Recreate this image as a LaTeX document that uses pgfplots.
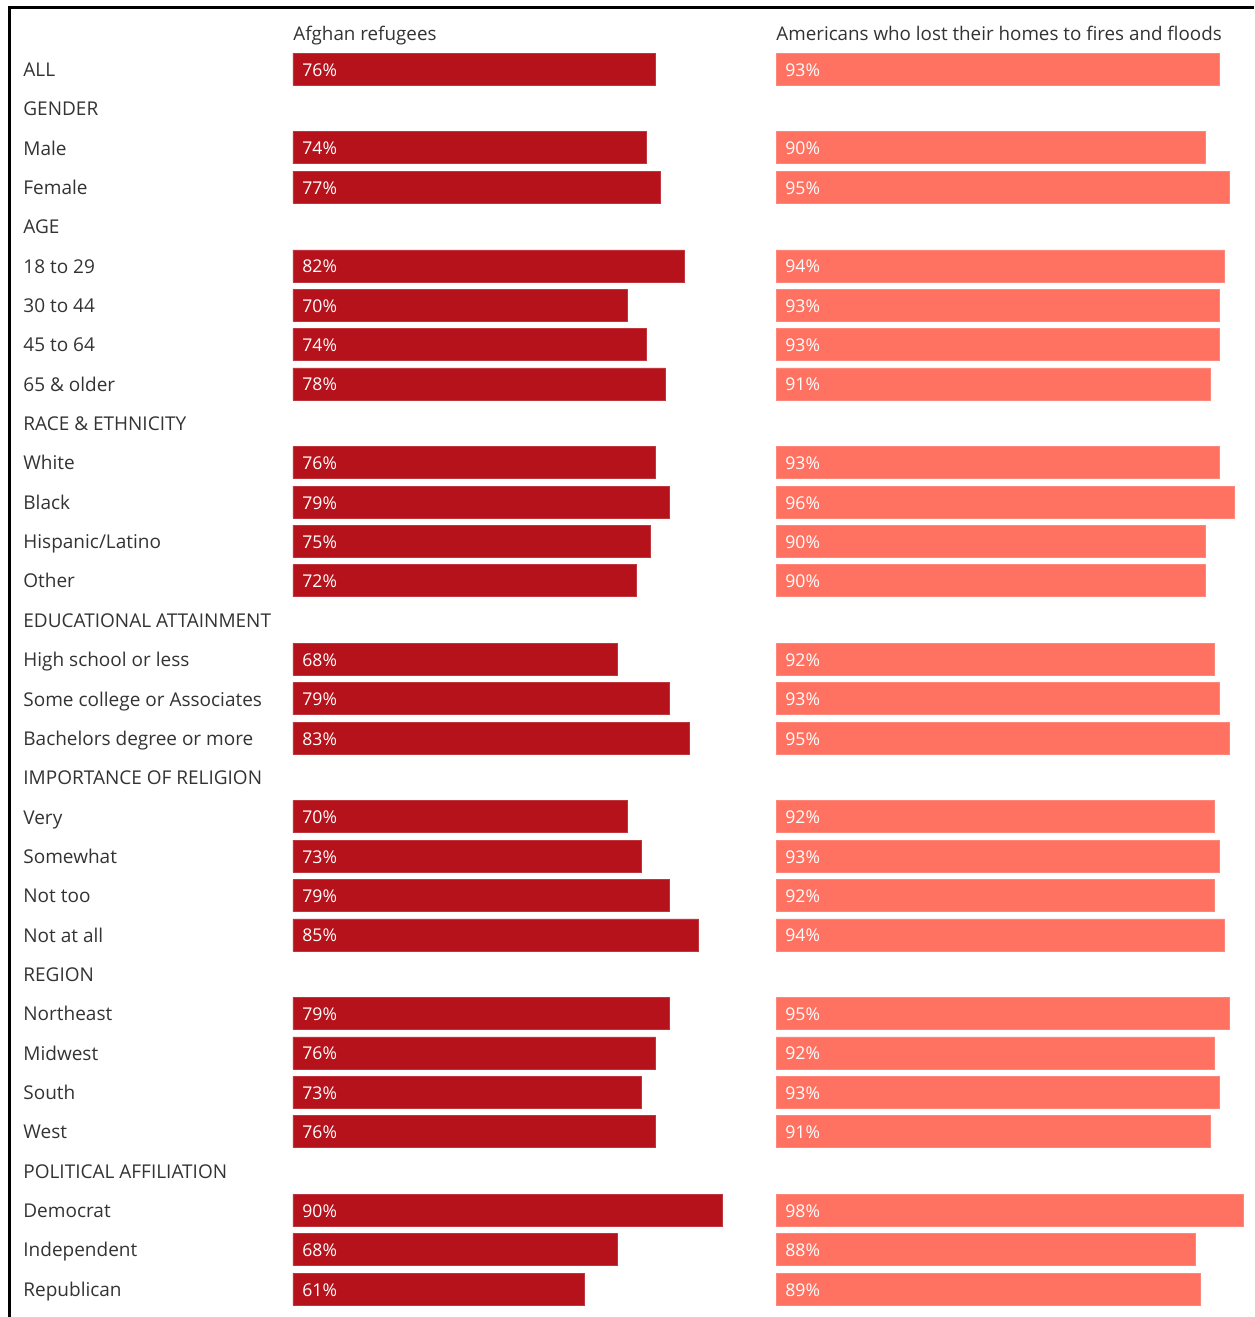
\documentclass[border=0pt]{standalone}
\usepackage{pgfplots}
\pgfplotsset{compat=1.18}
\usepackage{pgfplotstable}
\usepackage{fontspec}
\setmainfont{Open Sans}
\definecolor{darkred}{HTML}{B5121B}
\definecolor{salmon}{HTML}{FF7261}
\definecolor{txt}{HTML}{333333}
\pgfplotstableread{
y a b
0 76 93
2 74 90
3 77 95
5 82 94
6 70 93
7 74 93
8 78 91
10 76 93
11 79 96
12 75 90
13 72 90
15 68 92
16 79 93
17 83 95
19 70 92
20 73 93
21 79 92
22 85 94
24 79 95
25 76 92
26 73 93
27 76 91
29 90 98
30 68 88
31 61 89
}\data
\begin{document}
\begin{tikzpicture}
\useasboundingbox (0,0) rectangle (627pt,-658.5pt);
\pgfplotsset{
  base/.style={
    scale only axis, width=238.5pt, height=629.6pt,
    xmin=0, xmax=100, ymin=-0.5, ymax=31.5, y dir=reverse,
    axis line style={draw=none}, tick style={draw=none},
    xtick=\empty, clip=false,
    /pgf/number format/assume math mode=true,
    title style={anchor=base west, at={(0,1)}, yshift=-1.5pt, inner sep=0pt, font=\fontsize{9.4}{11}\selectfont, text=txt},
  },
  lab/.style={draw=none, mark=none, nodes near coords={\pgfmathprintnumber{\pgfplotspointmeta}\%},
    point meta=explicit,
    every node near coord/.style={anchor=west, text=white, inner sep=0pt, xshift=4.5pt, text height=1.4ex, text depth=0.1ex, font=\fontsize{8.8}{10}\selectfont}},
}
\begin{axis}[base, at={(146.5pt,-654.35pt)}, anchor=south west,
  title={Afghan refugees},
  ytick={0,...,31},
  yticklabels={ALL,GENDER,Male,Female,AGE,18 to 29,30 to 44,45 to 64,65 \& older,RACE \& ETHNICITY,White,Black,Hispanic/Latino,Other,EDUCATIONAL ATTAINMENT,High school or less,Some college or Associates,Bachelors degree or more,IMPORTANCE OF RELIGION,Very,Somewhat,Not too,Not at all,REGION,Northeast,Midwest,South,West,POLITICAL AFFILIATION,Democrat,Independent,Republican},
  yticklabel style={anchor=west, inner sep=0pt, xshift=-135pt, text=txt, text height=1.45ex, text depth=0.1ex, font=\fontsize{9.5}{11}\selectfont},
]
\addplot[xbar, bar width=16pt, bar shift=0pt, fill=darkred, draw=darkred!85!white, line width=0.4pt] table[x=a, y=y] {\data};
\addplot[lab] table[x expr=0, y=y, meta=a] {\data};
\end{axis}
\begin{axis}[base, at={(388pt,-654.35pt)}, anchor=south west,
  title={Americans who lost their homes to fires and floods},
  ytick=\empty,
]
\addplot[xbar, bar width=16pt, bar shift=0pt, fill=salmon, draw=salmon!85!white, line width=0.4pt] table[x=b, y=y] {\data};
\addplot[lab] table[x expr=0, y=y, meta=b] {\data};
\end{axis}
\draw[line width=1.5pt, black] (4.5pt,-658.5pt) -- (4.5pt,-3.5pt) -- (627pt,-3.5pt);
\end{tikzpicture}
\end{document}
